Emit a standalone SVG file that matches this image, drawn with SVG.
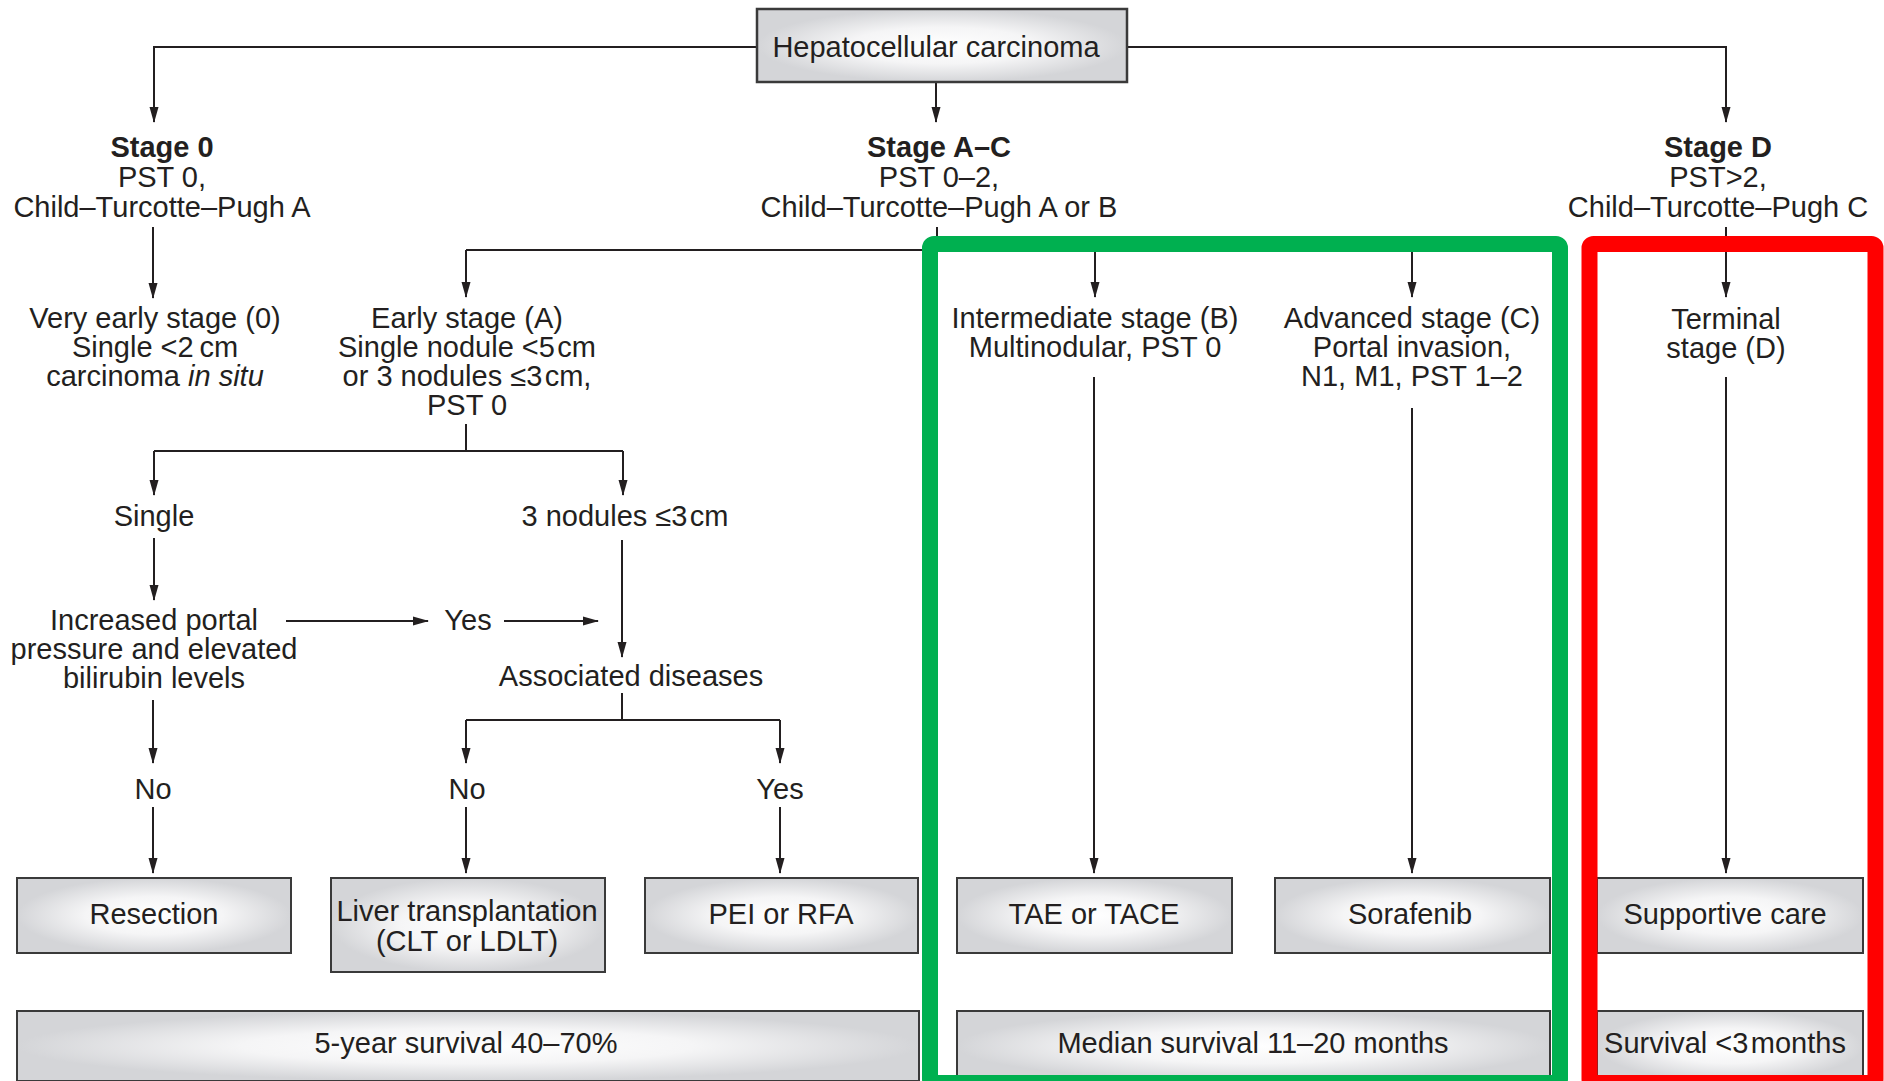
<svg xmlns="http://www.w3.org/2000/svg" width="1884" height="1081" viewBox="0 0 1884 1081">
<style>
text{font-family:"Liberation Sans",Arial,sans-serif;font-size:29px;fill:#231f20;text-anchor:middle}
.b{font-weight:bold}
.box{fill:url(#g);stroke:#3a3a3a;stroke-width:2}
.cn path{fill:none;stroke:#231f20;stroke-width:2}
.arr{marker-end:url(#ah)}
.hl{fill:none;stroke-width:16}
</style>
<defs>
<radialGradient id="g" cx="0.5" cy="0.5" r="0.5">
<stop offset="0" stop-color="#ffffff"/>
<stop offset="0.5" stop-color="#f5f5f6"/>
<stop offset="1" stop-color="#d4d5d8"/>
</radialGradient>
<marker id="ah" markerWidth="16" markerHeight="12" viewBox="0 0 16 12" refX="15" refY="6" orient="auto" markerUnits="userSpaceOnUse">
<path d="M0 1.5 L16 6 L0 10.5 z" fill="#231f20"/>
</marker>
</defs>
<rect width="1884" height="1081" fill="#ffffff"/>

<g id="connectors" class="cn">
<path class="arr" d="M757 47 H154 V122"/>
<path class="arr" d="M1127 47 H1726 V122"/>
<path class="arr" d="M936 82 V122"/>
<path class="arr" d="M153 227 V298"/>
<path d="M937 227 V250"/>
<path d="M466 250 H1412"/>
<path class="arr" d="M466 250 V297"/>
<path class="arr" d="M1095 250 V297"/>
<path class="arr" d="M1412 250 V297"/>
<path class="arr" d="M1726 227 V297"/>
<path d="M466 424 V451 M154 451 H623"/>
<path class="arr" d="M154 451 V495"/>
<path class="arr" d="M623 451 V495"/>
<path class="arr" d="M154 538 V600"/>
<path class="arr" d="M622 540 V657"/>
<path class="arr" d="M286 621 H428"/>
<path class="arr" d="M504 621 H598"/>
<path d="M622 693 V720 M466 720 H780"/>
<path class="arr" d="M466 720 V763"/>
<path class="arr" d="M780 720 V763"/>
<path class="arr" d="M153 700 V763"/>
<path class="arr" d="M153 807 V873"/>
<path class="arr" d="M466 807 V873"/>
<path class="arr" d="M780 807 V873"/>
<path class="arr" d="M1094 377 V873"/>
<path class="arr" d="M1412 408 V873"/>
<path class="arr" d="M1726 377 V873"/>
</g>

<g id="hcc">
<rect class="box" x="757" y="9" width="370" height="73" style="stroke-width:2.5"/>
<text x="936" y="57">Hepatocellular carcinoma</text>
</g>

<g id="stage0">
<text class="b" x="162" y="157">Stage 0</text>
<text x="162" y="187">PST 0,</text>
<text x="162" y="217">Child–Turcotte–Pugh A</text>
</g>
<g id="stageAC">
<text class="b" x="939" y="157">Stage A–C</text>
<text x="939" y="187">PST 0–2,</text>
<text x="939" y="217">Child–Turcotte–Pugh A or B</text>
</g>
<g id="stageD">
<text class="b" x="1718" y="157">Stage D</text>
<text x="1718" y="187">PST&gt;2,</text>
<text x="1718" y="217">Child–Turcotte–Pugh C</text>
</g>

<g id="veryearly">
<text x="155" y="328">Very early stage (0)</text>
<text x="155" y="357">Single &lt;2&#8201;cm</text>
<text x="155" y="386">carcinoma <tspan font-style="italic">in situ</tspan></text>
</g>
<g id="early">
<text x="467" y="328">Early stage (A)</text>
<text x="467" y="357">Single nodule &lt;5&#8202;cm</text>
<text x="467" y="386">or 3 nodules ≤3&#8202;cm,</text>
<text x="467" y="415">PST 0</text>
</g>
<g id="intermediate">
<text x="1095" y="328">Intermediate stage (B)</text>
<text x="1095" y="357">Multinodular, PST 0</text>
</g>
<g id="advanced">
<text x="1412" y="328">Advanced stage (C)</text>
<text x="1412" y="357">Portal invasion,</text>
<text x="1412" y="386">N1, M1, PST 1–2</text>
</g>
<g id="terminal">
<text x="1726" y="329">Terminal</text>
<text x="1726" y="358">stage (D)</text>
</g>

<g id="single"><text x="154" y="526">Single</text></g>
<g id="threenodules"><text x="625" y="526">3 nodules ≤3&#8202;cm</text></g>
<g id="portal">
<text x="154" y="630">Increased portal</text>
<text x="154" y="659">pressure and elevated</text>
<text x="154" y="688">bilirubin levels</text>
</g>
<g id="yes1"><text x="468" y="630">Yes</text></g>
<g id="assoc"><text x="631" y="686">Associated diseases</text></g>
<g id="no1"><text x="153" y="799">No</text></g>
<g id="no2"><text x="467" y="799">No</text></g>
<g id="yes2"><text x="780" y="799">Yes</text></g>

<g id="resection">
<rect class="box" x="17" y="878" width="274" height="75"/>
<text x="154" y="924">Resection</text>
</g>
<g id="liver">
<rect class="box" x="331" y="878" width="274" height="94"/>
<text x="467" y="921">Liver transplantation</text>
<text x="467" y="951">(CLT or LDLT)</text>
</g>
<g id="pei">
<rect class="box" x="645" y="878" width="273" height="75"/>
<text x="781" y="924">PEI or RFA</text>
</g>
<g id="tace">
<rect class="box" x="957" y="878" width="275" height="75"/>
<text x="1094" y="924">TAE or TACE</text>
</g>
<g id="sorafenib">
<rect class="box" x="1275" y="878" width="275" height="75"/>
<text x="1410" y="924">Sorafenib</text>
</g>
<g id="supportive">
<rect class="box" x="1597" y="878" width="266" height="75"/>
<text x="1725" y="924">Supportive care</text>
</g>

<g id="surv5">
<rect class="box" x="17" y="1011" width="902" height="70"/>
<text x="466" y="1053">5-year survival 40–70%</text>
</g>
<g id="survmed">
<rect class="box" x="957" y="1011" width="593" height="70"/>
<text x="1253" y="1053">Median survival 11–20 months</text>
</g>
<g id="survD">
<rect class="box" x="1597" y="1011" width="266" height="70"/>
<text x="1725" y="1053">Survival &lt;3&#8202;months</text>
</g>

<g id="highlights">
<rect class="hl" x="930" y="244" width="630" height="839" rx="4" stroke="#00b050"/>
<rect class="hl" x="1589.5" y="244" width="286" height="839" rx="4" stroke="#ff0000"/>
</g>
</svg>
